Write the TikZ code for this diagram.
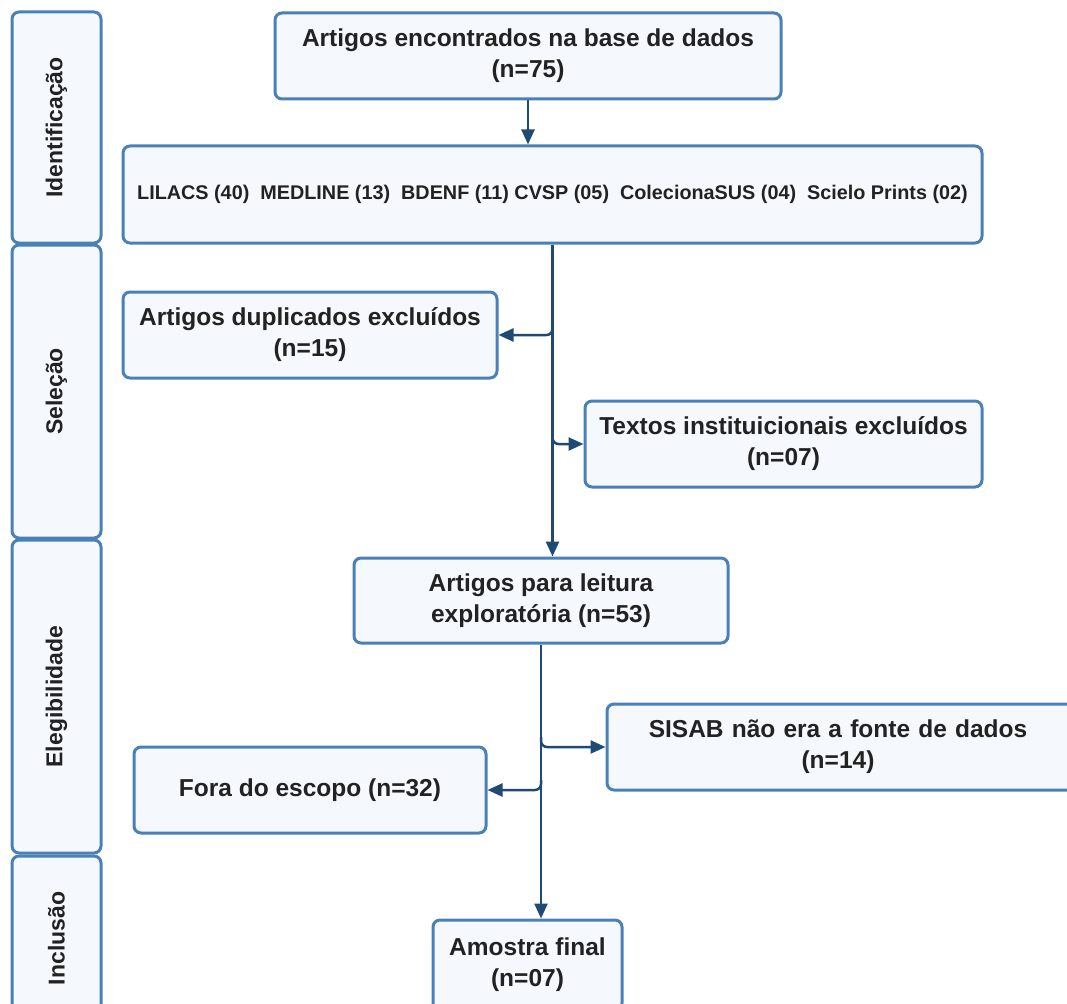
\documentclass[tikz,border=0pt]{standalone}
\usepackage{fontspec}
\setmainfont{Liberation Sans}
\usetikzlibrary{arrows.meta,calc}
\definecolor{bord}{HTML}{4A80B8}
\definecolor{fillc}{HTML}{F5F9FE}
\definecolor{arrc}{HTML}{1F4A75}
\definecolor{txtc}{HTML}{222222}
\tikzset{
  box/.style={draw=bord, fill=fillc, line width=3pt, rounded corners=7pt, align=center,
    text=txtc, font=\fontsize{24.5}{31}\selectfont\bfseries, inner sep=0pt},
  phase/.style={box, minimum width=89pt, font=\fontsize{23}{28}\selectfont\bfseries},
  arr/.style={draw=arrc, line width=2.5pt, -{Triangle[length=15pt,width=13pt]}},
  br/.style={arr, rounded corners=6pt},
}
\begin{document}
\begin{tikzpicture}[x=1pt,y=-1pt]
\useasboundingbox (0,0) rectangle (1067,1003);
\clip (0,0) rectangle (1067,1003);
% phase bars
\node[phase, minimum height=231pt] (p1) at (56.5,127.5) {\rotatebox{90}{Identificação}};
\node[phase, minimum height=293pt] (p2) at (56.5,391.5) {\rotatebox{90}{Seleção}};
\node[phase, minimum height=313pt] (p3) at (56.5,696.5) {\rotatebox{90}{Elegibilidade}};
\node[phase, minimum height=165pt] (p4) at (56.5,938.5) {\rotatebox{90}{Inclusão}};
% boxes
\node[box, minimum width=506pt, minimum height=86pt] (top) at (528,56) {Artigos encontrados na base de dados\\(n=75)};
\node[box, minimum width=859pt, minimum height=97pt, font=\fontsize{19.8}{24}\selectfont\bfseries] (db) at (552.5,194.5) {LILACS (40)\ \ MEDLINE (13)\ \ BDENF (11) CVSP (05)\ \ ColecionaSUS (04)\ \ Scielo Prints (02)};
\node[box, minimum width=374pt, minimum height=86pt] (dup) at (310,335) {Artigos duplicados excluídos\\(n=15)};
\node[box, minimum width=397pt, minimum height=86pt] (txt) at (783.5,444) {Textos instituicionais excluídos\\(n=07)};
\node[box, minimum width=374pt, minimum height=85pt] (leit) at (541,600.5) {Artigos para leitura\\exploratória (n=53)};
\node[box, minimum width=480pt, minimum height=86pt, text width=464pt] (sisab) at (847,747) {\hspace*{-18pt}SISAB não era a fonte de dados\\\hspace*{-18pt}(n=14)};
\node[box, minimum width=352pt, minimum height=86pt] (fora) at (310,790) {Fora do escopo (n=32)};
\node[box, minimum width=189pt, minimum height=90pt] (am) at (527.5,965) {Amostra final\\(n=07)};
% connectors
\draw[arr] (top.south) -- (top.south |- db.north);
\draw[arr] (db.south) -- (db.south |- leit.north);
\draw[br] (db.south |- dup.east) ++(0,-10) |- (dup.east);
\draw[br] (db.south |- txt.west) ++(0,-10) |- (txt.west);
\draw[arr] (leit.south) -- (leit.south |- am.north);
\draw[br] (leit.south |- sisab.west) ++(0,-10) |- (sisab.west);
\draw[br] (leit.south |- fora.east) ++(0,-10) |- (fora.east);
\end{tikzpicture}
\end{document}
